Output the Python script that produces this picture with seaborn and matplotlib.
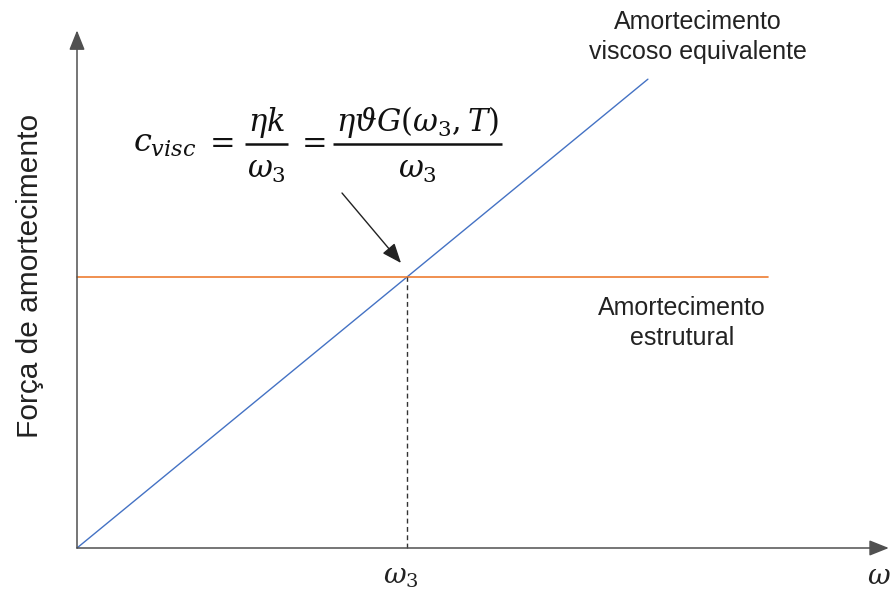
import matplotlib
matplotlib.use("Agg")
import matplotlib.pyplot as plt
import pandas as pd
import seaborn as sns

# Frequency (omega) and damping force values, arbitrary units
omega3 = 1.0
viscous_omega = [0.0, 1.73]
viscous_force = [0.0, 1.73]
structural_omega = [0.0, 2.094]
structural_force = [1.0, 1.0]
omega_axis_end = 2.46
force_axis_end = 1.91

viscous_label = "Amortecimento\nviscoso equivalente"
structural_label = "Amortecimento\nestrutural"
ylabel = "Força de amortecimento"

sns.set_theme(style="white")
plt.rcParams["font.family"] = ["Liberation Sans", "DejaVu Sans"]
plt.rcParams["mathtext.fontset"] = "dejavuserif"

W, H = 892, 591
X0, Y0 = 77, 548          # origin of the diagram in figure pixels
SX, SY = 330, 271         # pixels per unit on each axis

fig = plt.figure(figsize=(W / 100, H / 100), dpi=100)
ax = fig.add_axes([0, 0, 1, 1])
ax.set_xlim(-X0 / SX, (W - X0) / SX)
ax.set_ylim(-(H - Y0) / SY, Y0 / SY)
ax.axis("off")


def at(px, py):
    """Figure pixel position (from top-left) to data coordinates."""
    return (px - X0) / SX, (Y0 - py) / SY


viscous = pd.DataFrame({"omega": viscous_omega, "force": viscous_force})
structural = pd.DataFrame({"omega": structural_omega, "force": structural_force})

sns.lineplot(data=viscous, x="omega", y="force", ax=ax, color="#4472C4",
             linewidth=1.0)
sns.lineplot(data=structural, x="omega", y="force", ax=ax, color="#ED7D31",
             linewidth=1.2)

# dashed drop line at omega_3
ax.plot([omega3, omega3], [0, structural_force[0]], color="#333333",
        linestyle=(0, (3.5, 2.5)), linewidth=1.0)

# axes with arrow heads
axis_color = "#505050"
head = "-|>,head_length=1.0,head_width=0.4"
ax.annotate("", xy=(omega_axis_end, 0), xytext=(0, 0),
            arrowprops=dict(arrowstyle=head, color=axis_color, lw=1.1,
                            shrinkA=0, shrinkB=0))
ax.annotate("", xy=(0, force_axis_end), xytext=(0, 0),
            arrowprops=dict(arrowstyle=head, color=axis_color, lw=1.1,
                            shrinkA=0, shrinkB=0))

# pointer from the equation to the crossing point
ax.annotate("", xy=at(401, 263), xytext=at(342, 193),
            arrowprops=dict(arrowstyle=head, color="#222222", lw=1.0,
                            shrinkA=0, shrinkB=0))

# equation c_visc = eta k / omega_3 = eta theta G(omega_3, T) / omega_3
eq_fs = 22
eq_col = "#111111"
ax.text(*at(133, 152), r"$c_{visc}$", fontsize=eq_fs + 1, ha="left",
        va="baseline", color=eq_col)
ax.text(*at(219, 143), r"$=$", fontsize=eq_fs, ha="center", va="center",
        color=eq_col)
ax.text(*at(311, 143), r"$=$", fontsize=eq_fs, ha="center", va="center",
        color=eq_col)
for (xl, xr), num in [((245, 288), r"$\eta k$"),
                      ((333, 502), r"$\eta\vartheta G(\omega_3,T)$")]:
    xc = (xl + xr) / 2
    bx0, by = at(xl, 144)
    bx1, _ = at(xr, 144)
    ax.plot([bx0, bx1], [by, by], color=eq_col, linewidth=1.8,
            solid_capstyle="butt")
    ax.text(*at(xc, 131), num, fontsize=eq_fs, ha="center", va="baseline",
            color=eq_col)
    ax.text(*at(xc, 178), r"$\omega_3$", fontsize=eq_fs, ha="center",
            va="baseline", color=eq_col)

text_col = "#222222"
ax.text(*at(698, 37), viscous_label, fontsize=18, ha="center", va="center",
        color=text_col, linespacing=1.32)
ax.text(*at(682, 323), structural_label, fontsize=18, ha="center",
        va="center", color=text_col, linespacing=1.32)

ax.text(*at(30, 276), ylabel, fontsize=21.5, rotation=90, ha="center",
        va="center", color=text_col)

ax.text(*at(401, 584), r"$\omega_3$", fontsize=20, ha="center",
        va="baseline", color=text_col)
ax.text(*at(879, 584), r"$\omega$", fontsize=20, ha="center",
        va="baseline", color=text_col)

fig.savefig("out.png", dpi=100)
